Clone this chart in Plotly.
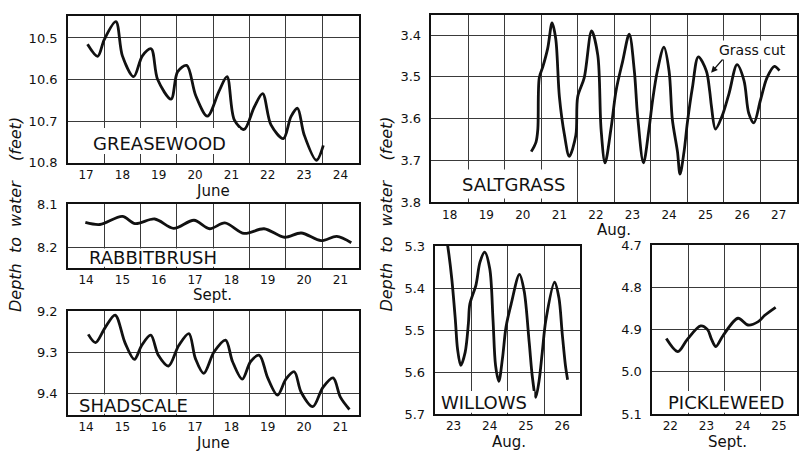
import plotly.graph_objects as go

W, H = 799, 461

# ---------------- data (depth to water, feet) ----------------
grease_x = [17.04, 17.32, 17.5, 17.82, 18.0, 18.31, 18.55, 18.79, 18.97, 19.34, 19.52, 19.77,
            20.02, 20.34, 20.66, 20.88, 21.08, 21.35, 21.63, 21.86, 22.09, 22.43, 22.64, 22.82,
            23.0, 23.34, 23.53]
grease_y = [10.515, 10.544, 10.504, 10.461, 10.543, 10.593, 10.543, 10.526, 10.6, 10.647, 10.581, 10.566,
            10.639, 10.688, 10.628, 10.593, 10.697, 10.72, 10.666, 10.634, 10.709, 10.742, 10.689, 10.669,
            10.732, 10.794, 10.758]

rabbit_x = [13.98, 14.38, 15.0, 15.35, 15.89, 16.41, 16.97, 17.4, 17.82, 18.35, 18.9, 19.46,
            19.92, 20.47, 20.9, 21.3]
rabbit_y = [8.142, 8.147, 8.128, 8.145, 8.134, 8.156, 8.137, 8.157, 8.143, 8.168, 8.157, 8.177,
            8.167, 8.185, 8.175, 8.19]

shad_x = [14.06, 14.26, 14.52, 14.8, 15.07, 15.33, 15.53, 15.78, 15.99, 16.27, 16.55, 16.83,
          17.01, 17.24, 17.52, 17.84, 18.03, 18.3, 18.53, 18.77, 19.0, 19.27, 19.5, 19.73,
          19.92, 20.24, 20.52, 20.8, 21.0, 21.25]
shad_y = [9.257, 9.277, 9.241, 9.21, 9.277, 9.318, 9.284, 9.259, 9.308, 9.334, 9.284, 9.255,
          9.316, 9.352, 9.3, 9.271, 9.323, 9.366, 9.323, 9.308, 9.363, 9.405, 9.366, 9.348,
          9.398, 9.433, 9.386, 9.363, 9.41, 9.44]

salt_x = [20.23, 20.36, 20.41, 20.45, 20.55, 20.68, 20.8, 20.9, 21.0, 21.14, 21.27, 21.45,
          21.5, 21.68, 21.88, 22.05, 22.14, 22.25, 22.41, 22.55, 22.73, 22.91, 23.05, 23.14,
          23.3, 23.45, 23.55, 23.68, 23.86, 24.0, 24.09, 24.23, 24.3, 24.41, 24.5, 24.64,
          24.8, 25.02, 25.11, 25.16, 25.27, 25.45, 25.64, 25.86, 26.05, 26.18, 26.32, 26.5,
          26.68, 26.88, 27.02]
salt_y = [3.679, 3.656, 3.625, 3.502, 3.475, 3.432, 3.371, 3.409, 3.548, 3.64, 3.69, 3.64,
          3.548, 3.502, 3.39, 3.448, 3.625, 3.706, 3.625, 3.533, 3.463, 3.398, 3.486, 3.594,
          3.706, 3.625, 3.556, 3.486, 3.429, 3.486, 3.602, 3.679, 3.733, 3.679, 3.61, 3.525,
          3.452, 3.486, 3.533, 3.571, 3.625, 3.594, 3.54, 3.471, 3.509, 3.587, 3.61, 3.556,
          3.502, 3.475, 3.485]

willow_x = [22.80, 22.84, 22.95, 23.05, 23.11, 23.2, 23.32, 23.41, 23.45, 23.62, 23.73, 23.86,
            24.0, 24.09, 24.16, 24.25, 24.35, 24.45, 24.59, 24.82, 24.95, 25.09, 25.18, 25.27,
            25.36, 25.45, 25.55, 25.79, 25.91, 26.0, 26.09, 26.15]
willow_y = [5.28, 5.3, 5.377, 5.476, 5.545, 5.584, 5.553, 5.484, 5.438, 5.392, 5.338, 5.314,
            5.354, 5.476, 5.584, 5.622, 5.568, 5.492, 5.438, 5.367, 5.407, 5.53, 5.614, 5.66,
            5.622, 5.553, 5.476, 5.386, 5.423, 5.507, 5.584, 5.618]

pickle_x = [21.89, 22.21, 22.47, 22.84, 23.03, 23.14, 23.26, 23.45, 23.87, 24.15, 24.43, 24.61, 24.91]
pickle_y = [4.921, 4.952, 4.923, 4.891, 4.9, 4.923, 4.94, 4.915, 4.873, 4.889, 4.881, 4.866, 4.847]

grease_days = list(range(17, 25))
rabbit_days = list(range(14, 22))
shad_days = list(range(14, 22))
salt_days = list(range(18, 28))
willow_days = list(range(23, 27))
pickle_days = list(range(22, 26))

grease_ticks = [10.5, 10.6, 10.7, 10.8]
rabbit_ticks = [8.1, 8.2]
shad_ticks = [9.2, 9.3, 9.4]
salt_ticks = [3.4, 3.5, 3.6, 3.7, 3.8]
willow_ticks = [5.3, 5.4, 5.5, 5.6, 5.7]
pickle_ticks = [4.7, 4.8, 4.9, 5.0, 5.1]

# ---------------- layout helpers ----------------
def fx(p):
    return p / W

def fy(p):
    return 1 - p / H

FONT = "DejaVu Sans"
INK = "#111111"
GRID = "#3a3a3a"

panels = [
    dict(name="GREASEWOOD", x=grease_x, y=grease_y, days=grease_days, yt=grease_ticks,
         box=(68, 359, 9, 161), xr=[16.5, 24.5], yr=[10.8, 10.4465],
         month="June", mpos=(213, 190), lpos=(160, 141), lbox=(69.5, 240, 125, 152)),
    dict(name="RABBITBRUSH", x=rabbit_x, y=rabbit_y, days=rabbit_days, yt=rabbit_ticks,
         box=(68, 359, 204, 270), xr=[13.5, 21.5], yr=[8.25, 8.0995],
         month="Sept.", mpos=(213, 298), lpos=(153, 259), lbox=(69.5, 232, 249.5, 268.5)),
    dict(name="SHADSCALE", x=shad_x, y=shad_y, days=shad_days, yt=shad_ticks,
         box=(68, 359, 314, 422), xr=[13.5, 21.5], yr=[9.454, 9.1995],
         month="June", mpos=(213, 451), lpos=(134, 412), lbox=(69.5, 200, 400.5, 420.5)),
    dict(name="SALTGRASS", x=salt_x, y=salt_y, days=salt_days, yt=salt_ticks,
         box=(432, 798, 8, 202), xr=[17.5, 27.5], yr=[3.8005, 3.3514],
         month="Aug.", mpos=(615, 230), lpos=(515, 183), lbox=(433.5, 575, 168, 198)),
    dict(name="WILLOWS", x=willow_x, y=willow_y, days=willow_days, yt=willow_ticks,
         box=(436, 581, 247, 421), xr=[22.5, 26.5], yr=[5.7005, 5.2995],
         month="Aug.", mpos=(510, 450), lpos=(485, 409), lbox=(437.5, 535, 397, 419.5)),
    dict(name="PICKLEWEED", x=pickle_x, y=pickle_y, days=pickle_days, yt=pickle_ticks,
         box=(653, 798, 246, 421), xr=[21.5, 25.5], yr=[5.1005, 4.6995],
         month="Sept.", mpos=(728, 450), lpos=(727, 409), lbox=(654.5, 796.5, 397, 419.5)),
]

fig = go.Figure()
layout = dict(
    width=W, height=H, margin=dict(l=0, r=0, t=0, b=0),
    paper_bgcolor="white", plot_bgcolor="white", showlegend=False,
    font=dict(family=FONT, color=INK),
)
annotations = []
shapes = []

for i, p in enumerate(panels, start=1):
    xa = "x" if i == 1 else f"x{i}"
    ya = "y" if i == 1 else f"y{i}"
    l, r, t, b = p["box"]
    fig.add_trace(go.Scatter(
        x=p["x"], y=p["y"], mode="lines", xaxis=xa, yaxis=ya,
        line=dict(color=INK, width=2.8, shape="spline", smoothing=0.9),
        hoverinfo="skip"))
    halves = [d + 0.5 for d in range(int(p["xr"][0]), int(p["xr"][1]) + 1)]
    layout["xaxis" if i == 1 else f"xaxis{i}"] = dict(
        domain=[fx(l), fx(r)], anchor=ya, range=p["xr"],
        tickmode="array", tickvals=p["days"], ticktext=[str(d) for d in p["days"]],
        showgrid=False, zeroline=False, ticks="",
        minor=dict(tickmode="array", tickvals=halves, showgrid=True,
                   gridcolor=GRID, gridwidth=1, ticks=""),
        showline=True, mirror=True, linecolor=INK, linewidth=1.5,
        tickfont=dict(family=FONT, size=12, color=INK),
    )
    layout["yaxis" if i == 1 else f"yaxis{i}"] = dict(
        domain=[fy(b), fy(t)], anchor=xa, range=p["yr"],
        tickmode="array", tickvals=p["yt"], ticktext=[f"{v:.1f}" for v in p["yt"]],
        showgrid=True, gridcolor=GRID, gridwidth=1, zeroline=False, ticks="",
        ticklabelstandoff=6,
        showline=True, mirror=True, linecolor=INK, linewidth=1.5,
        tickfont=dict(family=FONT, size=13, color=INK),
    )
    bl, br, bt, bb = p["lbox"]
    shapes.append(dict(type="rect", xref="paper", yref="paper",
                       x0=fx(bl), x1=fx(br), y0=fy(bb), y1=fy(bt),
                       fillcolor="white", line=dict(width=0), layer="above"))
    annotations.append(dict(text=p["name"], xref="paper", yref="paper",
                            x=fx(p["lpos"][0]), y=fy(p["lpos"][1]),
                            xanchor="center", yanchor="middle", showarrow=False,
                            font=dict(family=FONT, size=18, color=INK)))
    annotations.append(dict(text=p["month"], xref="paper", yref="paper",
                            x=fx(p["mpos"][0]), y=fy(p["mpos"][1]),
                            xanchor="center", yanchor="middle", showarrow=False,
                            font=dict(family=FONT, size=15, color=INK)))

# y-axis titles
ytitle = "<i>Depth\u00a0\u00a0to\u00a0\u00a0water\u00a0\u00a0\u00a0\u00a0(feet)</i>"
for xp in (15, 387):
    annotations.append(dict(text=ytitle, xref="paper", yref="paper",
                            x=fx(xp), y=fy(214), textangle=-90,
                            xanchor="center", yanchor="middle", showarrow=False,
                            font=dict(family=FONT, size=16, color=INK)))

# "Grass cut" note on the saltgrass panel
annotations.append(dict(text="Grass cut", xref="x4", yref="y4", x=26.27, y=3.435,
                        xanchor="center", yanchor="middle", showarrow=False,
                        font=dict(family=FONT, size=14, color=INK), bgcolor="white"))
annotations.append(dict(text="", xref="x4", yref="y4", x=25.15, y=3.49,
                        axref="x4", ayref="y4", ax=25.5, ay=3.455,
                        showarrow=True, arrowhead=2, arrowsize=1, arrowwidth=1.3,
                        arrowcolor=INK, standoff=0))

layout["annotations"] = annotations
layout["shapes"] = shapes
fig.update_layout(**layout)
fig.write_html("out.html")
